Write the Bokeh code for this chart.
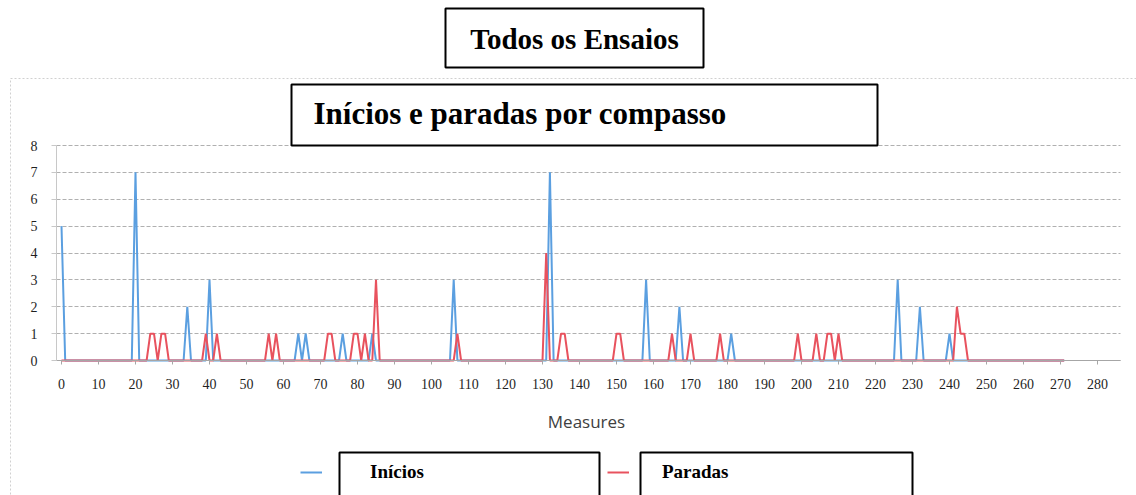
from bokeh.plotting import figure
from bokeh.models import (Range1d, FixedTicker, Label, BoxAnnotation, Legend,
                          LegendItem, ColumnDataSource)
from bokeh.embed import file_html
from bokeh.resources import INLINE

# ---------------- data ----------------
title_main = "Todos os Ensaios"
title_chart = "Inícios e paradas por compasso"
x_title = "Measures"
series_names = ["Inícios", "Paradas"]

last_measure = 271
inicios_measures = [0, 20, 34, 40, 64, 66, 76, 84, 106, 132, 158, 167, 181, 226, 232, 240]
inicios_values = [5, 7, 2, 3, 1, 1, 1, 1, 3, 7, 3, 2, 1, 3, 2, 1]
paradas_measures = [24, 25, 27, 28, 39, 42, 56, 58, 72, 73, 79, 80, 82, 85, 107, 131,
                    135, 136, 150, 151, 165, 170, 178, 199, 204, 207, 208, 210, 242, 243, 244]
paradas_values = [1, 1, 1, 1, 1, 1, 1, 1, 1, 1, 1, 1, 1, 3, 1, 4,
                  1, 1, 1, 1, 1, 1, 1, 1, 1, 1, 1, 1, 2, 1, 1]
x_ticks = list(range(0, 281, 10))
y_ticks = list(range(0, 9))

# full series: every measure, zero where nothing was marked
measures = list(range(0, last_measure + 1))
ini_map = dict(zip(inicios_measures, inicios_values))
par_map = dict(zip(paradas_measures, paradas_values))
ini_full = [ini_map.get(m, 0) for m in measures]
par_full = [par_map.get(m, 0) for m in measures]

BLUE = "#5b9fe0"
RED = "#e8525e"
SERIF = "Liberation Serif"

# scale: 3.7 px per measure, 26.875 px per unit; frame spans the whole canvas
W, H = 1136, 495
X0PX, Y0PX, SX, SY = 61.0, 360.0, 3.7, 26.875
def dx(px):
    return (px - X0PX) / SX
def dy(py):
    return (Y0PX - py) / SY

p = figure(width=W, height=H, x_range=Range1d(dx(0), dx(W)), y_range=Range1d(dy(H), dy(0)),
           output_backend="svg", toolbar_location=None, title=None,
           min_border_left=0, min_border_right=0, min_border_top=0, min_border_bottom=0,
           background_fill_color="white", border_fill_color="white")
p.outline_line_color = None

src = ColumnDataSource(dict(x=measures, ini=ini_full, par=par_full))
r_ini = p.line("x", "ini", source=src, line_color=BLUE, line_width=2)
r_par = p.line("x", "par", source=src, line_color=RED, line_width=2)

y_axis_at = dx(56)
x_end = dx(1120)

# grid
p.xgrid.grid_line_color = None
p.ygrid.ticker = FixedTicker(ticks=y_ticks)
p.ygrid.grid_line_color = "#b0b0b0"
p.ygrid.grid_line_dash = "4 2"
p.ygrid.grid_line_width = 1
p.ygrid.cross_bounds = (y_axis_at, x_end)

# x axis (sits at y = 0)
xa = p.xaxis[0]
xa.fixed_location = 0
xa.bounds = (y_axis_at, x_end)
xa.ticker = FixedTicker(ticks=x_ticks)
xa.axis_line_color = "#a6a6a6"
xa.major_tick_line_color = "#a6a6a6"
xa.major_tick_out = 4
xa.major_tick_in = 0
xa.minor_tick_line_color = None
xa.major_label_text_font = SERIF
xa.major_label_text_font_size = "14px"
xa.major_label_text_color = "#1f1f1f"
xa.major_label_standoff = 14

# y axis (sits left of the first measure)
ya = p.yaxis[0]
ya.fixed_location = y_axis_at
ya.bounds = (0, 8)
ya.ticker = FixedTicker(ticks=y_ticks)
ya.axis_line_color = "#c8c8c8"
ya.major_tick_line_color = "#c8c8c8"
ya.major_tick_out = 5
ya.major_tick_in = 0
ya.minor_tick_line_color = None
ya.major_label_text_font = SERIF
ya.major_label_text_font_size = "14px"
ya.major_label_text_color = "#1f1f1f"
ya.major_label_standoff = 14

# x axis title
p.add_layout(Label(x=dx(586), y=dy(421), text=x_title, text_align="center", text_baseline="middle",
                   text_font="Open Sans", text_font_size="17px", text_color="#404040"))

# outer chart area border (faint dotted, top and left edges)
p.add_layout(BoxAnnotation(left=dx(10), right=dx(1300), top=dy(78), bottom=dy(700),
                           fill_alpha=0, line_color="#d0d0d0", line_alpha=1,
                           line_dash="2 2", line_width=1))

box_style = dict(fill_color="white", fill_alpha=1, line_color="black", line_alpha=1, line_width=2)

# title boxes
p.add_layout(BoxAnnotation(left=dx(445), right=dx(703), top=dy(8), bottom=dy(67), **box_style))
p.add_layout(Label(x=dx(574), y=dy(38), text=title_main, text_align="center", text_baseline="middle",
                   text_font=SERIF, text_font_style="bold", text_font_size="29px", text_color="black"))

p.add_layout(BoxAnnotation(left=dx(291), right=dx(877), top=dy(84), bottom=dy(145), **box_style))
p.add_layout(Label(x=dx(313), y=dy(113), text=title_chart, text_align="left", text_baseline="middle",
                   text_font=SERIF, text_font_style="bold", text_font_size="31px", text_color="black"))

# legend boxes
p.add_layout(BoxAnnotation(left=dx(339), right=dx(599), top=dy(452), bottom=dy(600), **box_style))
p.add_layout(BoxAnnotation(left=dx(640), right=dx(912), top=dy(452), bottom=dy(600), **box_style))

common = dict(orientation="horizontal", padding=0, margin=0, spacing=0,
              glyph_width=22, glyph_height=20, label_height=20,
              border_line_color=None, background_fill_alpha=0,
              label_text_font=SERIF, label_text_font_style="bold",
              label_text_font_size="19px", label_text_color="black")
leg1 = Legend(items=[LegendItem(label=series_names[0], renderers=[r_ini])],
              location=(300, 12), label_standoff=48, **common)
leg2 = Legend(items=[LegendItem(label=series_names[1], renderers=[r_par])],
              location=(607, 12), label_standoff=33, **common)
p.add_layout(leg1)
p.add_layout(leg2)

open("out.html", "w").write(file_html(p, INLINE))
